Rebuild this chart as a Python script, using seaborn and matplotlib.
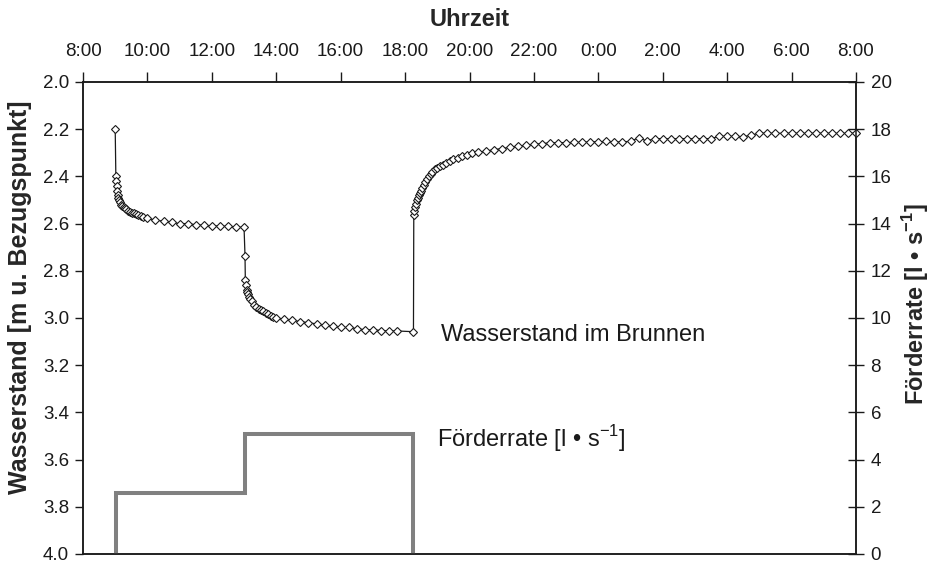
import pandas as pd
import matplotlib
matplotlib.use("Agg")
import matplotlib.pyplot as plt
from matplotlib.ticker import FuncFormatter, MultipleLocator
import seaborn as sns

# Wasserstand im Brunnen (Zeit in Stunden ab 0:00 des ersten Tages)
t_absenkung1 = [9.00, 9.02, 9.03, 9.05, 9.07, 9.08, 9.10, 9.12, 9.15, 9.18, 9.22, 9.26,
                9.30, 9.35, 9.40, 9.46, 9.52, 9.58, 9.65, 9.72, 9.80, 9.87, 10.00, 10.25,
                10.50, 10.75, 11.00, 11.25, 11.50, 11.75, 12.00, 12.25, 12.50, 12.75, 13.00]
w_absenkung1 = [2.20, 2.40, 2.42, 2.44, 2.46, 2.48, 2.49, 2.50, 2.51, 2.52, 2.525, 2.53,
                2.535, 2.54, 2.545, 2.55, 2.553, 2.556, 2.56, 2.563, 2.567, 2.57, 2.578, 2.585,
                2.59, 2.595, 2.60, 2.60, 2.605, 2.607, 2.61, 2.61, 2.612, 2.615, 2.616]

t_absenkung2 = [13.03, 13.04, 13.06, 13.08, 13.10, 13.13, 13.16, 13.20, 13.25, 13.30, 13.37,
                13.45, 13.52, 13.60, 13.68, 13.75, 13.83, 13.90, 14.00, 14.25, 14.50, 14.75,
                15.00, 15.25, 15.50, 15.75, 16.00, 16.25, 16.50, 16.75, 17.00, 17.25, 17.50,
                17.75, 18.26]
w_absenkung2 = [2.736, 2.84, 2.86, 2.88, 2.89, 2.90, 2.91, 2.92, 2.93, 2.945, 2.953,
                2.96, 2.965, 2.97, 2.977, 2.983, 2.99, 2.994, 3.00, 3.005, 3.01, 3.015,
                3.02, 3.025, 3.03, 3.035, 3.04, 3.04, 3.045, 3.05, 3.05, 3.053, 3.055,
                3.055, 3.058]

t_wiederanstieg = [18.27, 18.29, 18.31, 18.33, 18.36, 18.39, 18.42, 18.46, 18.50, 18.54,
                   18.58, 18.63, 18.68, 18.73, 18.79, 18.85, 18.92, 19.00, 19.08, 19.17,
                   19.27, 19.38, 19.50, 19.63, 19.77, 19.92, 20.08, 20.25, 20.50, 20.75,
                   21.00, 21.25, 21.50, 21.75, 22.00, 22.25, 22.50, 22.75, 23.00, 23.25,
                   23.50, 23.75, 24.00, 24.25, 24.50, 24.75, 25.00, 25.25, 25.50, 25.75,
                   26.00, 26.25, 26.50, 26.75, 27.00, 27.25, 27.50, 27.75, 28.00, 28.25,
                   28.50, 28.75, 29.00, 29.25, 29.50, 29.75, 30.00, 30.25, 30.50, 30.75,
                   31.00, 31.25, 31.50, 31.75, 32.00]
w_wiederanstieg = [2.565, 2.545, 2.528, 2.515, 2.50, 2.49, 2.48, 2.47, 2.46, 2.448,
                   2.435, 2.422, 2.41, 2.40, 2.39, 2.38, 2.37, 2.363, 2.357, 2.35,
                   2.343, 2.336, 2.328, 2.32, 2.314, 2.308, 2.302, 2.298, 2.293, 2.287,
                   2.282, 2.277, 2.272, 2.268, 2.264, 2.261, 2.258, 2.257, 2.257, 2.256,
                   2.255, 2.254, 2.253, 2.252, 2.255, 2.253, 2.252, 2.236, 2.25, 2.24,
                   2.24, 2.241, 2.24, 2.24, 2.241, 2.24, 2.24, 2.23, 2.23, 2.23,
                   2.232, 2.225, 2.217, 2.217, 2.218, 2.217, 2.217, 2.217, 2.218, 2.217,
                   2.217, 2.217, 2.218, 2.217, 2.217]

# Förderrate: Schaltzeitpunkte und Rate danach
pumpe_zeit = [9.02, 13.03, 18.26]
pumpe_rate = [2.6, 5.1, 0.0]

df_w = pd.DataFrame({
    "zeit": t_absenkung1 + t_absenkung2 + t_wiederanstieg,
    "wasserstand": w_absenkung1 + w_absenkung2 + w_wiederanstieg,
})

# Treppenlinie aus den Schaltzeitpunkten
px, py = [], []
vorher = 0.0
for t, q in zip(pumpe_zeit, pumpe_rate):
    px += [t, t]
    py += [vorher, q]
    vorher = q
df_q = pd.DataFrame({"zeit": px, "rate": py})

sns.set_style("ticks")
plt.rcParams["font.family"] = ["Liberation Sans", "DejaVu Sans"]
plt.rcParams["mathtext.fontset"] = "custom"
plt.rcParams["mathtext.rm"] = "Liberation Sans"
plt.rcParams["mathtext.bf"] = "Liberation Sans:bold"

fig = plt.figure(figsize=(9.3, 5.64), dpi=100)
ax = fig.add_axes([83 / 930, 1 - 554 / 564, 773 / 930, 472 / 564])
ax2 = ax.twinx()

sns.lineplot(data=df_w, x="zeit", y="wasserstand", ax=ax, estimator=None, sort=False,
             color="#1a1a1a", linewidth=0.9, marker="D", markersize=4.4,
             markerfacecolor="white", markeredgecolor="#1a1a1a", markeredgewidth=0.8,
             clip_on=False, zorder=3)
sns.lineplot(data=df_q, x="zeit", y="rate", ax=ax2, estimator=None, sort=False,
             color="#808080", linewidth=2.9, solid_joinstyle="miter")

ax.set_xlim(8, 32)
ax.set_ylim(4.0, 2.0)
ax2.set_ylim(0, 20)

ax.xaxis.tick_top()
ax.xaxis.set_label_position("top")
ax.xaxis.set_major_locator(MultipleLocator(2))
ax.xaxis.set_major_formatter(FuncFormatter(lambda v, p: f"{int(round(v)) % 24}:00"))
ax.yaxis.set_major_locator(MultipleLocator(0.2))
ax.yaxis.set_major_formatter(FuncFormatter(lambda v, p: f"{v:.1f}"))
ax2.yaxis.set_major_locator(MultipleLocator(2))

ax.tick_params(axis="x", direction="out", length=7, width=1, pad=9, labelsize=13.5, colors="#1a1a1a")
ax.tick_params(axis="y", direction="out", length=6, width=1, pad=4, labelsize=13.5, colors="#1a1a1a")
ax2.tick_params(axis="y", direction="inout", length=11, width=1, pad=5, labelsize=13.5, colors="#1a1a1a")

for a in (ax, ax2):
    for s in a.spines.values():
        s.set_visible(True)
        s.set_linewidth(1.1)
        s.set_color("#1a1a1a")

ax.set_xlabel("Uhrzeit", fontsize=17, fontweight="bold")
ax.set_ylabel("Wasserstand [m u. Bezugspunkt]", fontsize=18, fontweight="bold")
ax2.set_ylabel(r"Förderrate [l • s$^{\mathbf{-1}}$]", fontsize=17, fontweight="bold")
ax.xaxis.set_label_coords(0.5, 1.119)
ax.yaxis.set_label_coords(-0.066, 0.545)
ax2.yaxis.set_label_coords(1.0565, 0.53)

ax.text(19.1, 3.07, "Wasserstand im Brunnen", fontsize=17, va="center", ha="left", color="#1a1a1a")
ax2.text(19.0, 4.9, r"Förderrate [l • s$^{-1}$]", fontsize=17, va="center", ha="left", color="#1a1a1a")

fig.savefig("out.png", dpi=100)
